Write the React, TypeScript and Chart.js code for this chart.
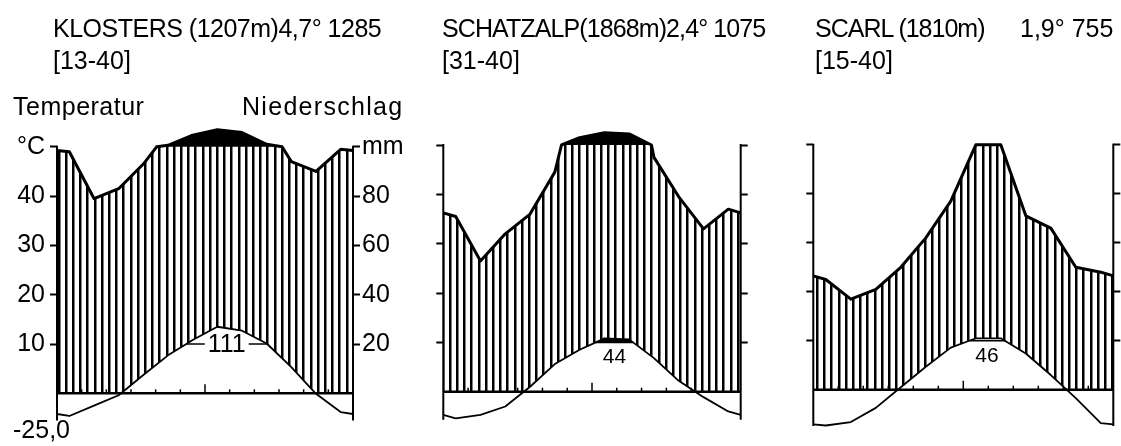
import React, { useEffect, useRef } from 'react';
import { Chart, registerables } from 'chart.js';

Chart.register(...registerables);

// ---------- data ----------
const months = ['J', 'F', 'M', 'A', 'M', 'J', 'J', 'A', 'S', 'O', 'N', 'D'];

const klostersTemp = [-4.6, -2.5, -0.4, 3.7, 7.7, 10.8, 13.5, 12.7, 10.1, 5.3, -0.1, -3.8];
const klostersPrecip = [98, 79, 83, 93, 106, 147, 169, 158, 110, 94, 90, 99];

const schatzalpTemp = [-5.4, -4.7, -3.0, 1.0, 5.6, 8.5, 10.8, 10.6, 6.8, 2.2, -1.1, -4.0];
const schatzalpPrecip = [71, 53, 64, 72, 89, 130, 150, 145, 95, 79, 66, 74];

const scarlTemp = [-7.3, -6.6, -3.7, 0.5, 4.7, 8.6, 10.5, 10.5, 7.4, 3.0, -1.7, -6.8];
const scarlPrecip = [45, 37, 41, 50, 62, 77, 100, 100, 71, 66, 50, 48];

const stationTitles = ['KLOSTERS (1207m)4,7° 1285', 'SCHATZALP(1868m)2,4° 1075', 'SCARL (1810m)'];
const stationExtra = ['', '', '1,9° 755'];
const stationPeriods = ['[13-40]', '[31-40]', '[15-40]'];
const daysLabels = ['111', '44', '46'];
const absMinLabel = '-25,0';
const tempTicks = [10, 20, 30, 40, 50];

// ---------- helpers ----------
const FONT = "'Liberation Sans', Arial, sans-serif";

type Pt = { x: number; y: number };

function convPrecip(mm: number) {
  return mm <= 100 ? mm / 2 : 50 + (mm - 100) / 20;
}
function edgeValue(arr: number[]) {
  return (arr[0] + arr[11]) / 2;
}
function monthPoints(arr: number[]): Pt[] {
  const e = edgeValue(arr);
  return [{ x: 0, y: e }, ...arr.map((v, i) => ({ x: i + 0.5, y: v })), { x: 12, y: e }];
}
function withCrossings(raw: Pt[], level: number): Pt[] {
  const out: Pt[] = [];
  for (let i = 0; i < raw.length; i++) {
    if (i > 0) {
      const a = raw[i - 1], b = raw[i];
      if ((a.y - level) * (b.y - level) < 0) {
        const f = (level - a.y) / (b.y - a.y);
        out.push({ x: a.x + f * (b.x - a.x), y: level });
      }
    }
    out.push(raw[i]);
  }
  return out;
}
function crossings(pts: Pt[], level: number) {
  let c1: number | null = null, c2: number | null = null;
  for (let i = 1; i < pts.length; i++) {
    const a = pts[i - 1], b = pts[i];
    if (a.y < level && b.y >= level && c1 === null) c1 = a.x + ((level - a.y) / (b.y - a.y)) * (b.x - a.x);
    if (a.y >= level && b.y < level) c2 = a.x + ((level - a.y) / (b.y - a.y)) * (b.x - a.x);
  }
  return [c1, c2];
}

function makeHatch() {
  const c = document.createElement('canvas');
  c.width = 36;
  c.height = 8;
  const g = c.getContext('2d')!;
  g.fillStyle = '#fff';
  g.fillRect(0, 0, 36, 8);
  g.fillStyle = '#000';
  [0, 7, 14, 22, 29].forEach((x) => g.fillRect(x, 0, 2.5, 8));
  return g.createPattern(c, 'repeat');
}

// ---------- layout of the three panels ----------
const panels = [
  { temp: klostersTemp, precip: klostersPrecip, days: daysLabels[0], left: 0, width: 420, axisL: 57, axisR: 353, top50: 146.8, base: 393.3, ymin: -5.5, ymax: 55, labels: true, lens: false, dayOnLine: true },
  { temp: schatzalpTemp, precip: schatzalpPrecip, days: daysLabels[1], left: 420, width: 360, axisL: 443.3, axisR: 740.7, top50: 145, base: 391.7, ymin: -5.7, ymax: 55, labels: false, lens: true, dayOnLine: false },
  { temp: scarlTemp, precip: scarlPrecip, days: daysLabels[2], left: 780, width: 341, axisL: 813.3, axisR: 1113.3, top50: 145, base: 391.7, ymin: -7.4, ymax: 55, labels: false, lens: false, dayOnLine: false },
];

function buildConfig(p: any): any {
  const ppd = (p.base - p.top50) / 50;
  const chartTop = p.top50 - (p.ymax - 50) * ppd;
  const chartBottom = p.base - p.ymin * ppd;

  const tPts = withCrossings(monthPoints(p.temp), 10);
  const tCapped = tPts.map((q) => ({ x: q.x, y: Math.min(q.y, 10) }));
  const pPts = withCrossings(monthPoints(p.precip), 100).map((q) => ({ x: q.x, y: convPrecip(q.y) }));
  const pCapped = pPts.map((q) => ({ x: q.x, y: Math.min(q.y, 50) }));
  const [c1, c2] = crossings(tPts, 10);
  const seg10 = c1 !== null && c2 !== null ? [{ x: c1, y: 10 }, { x: c2, y: 10 }] : [];
  const hatch = makeHatch();
  const none = 'rgba(0,0,0,0)';
  const common = { pointRadius: 0, pointHoverRadius: 0, tension: 0, xAxisID: 'x', yAxisID: 'y', clip: false };

  const overlay = {
    id: 'overlay',
    afterDatasetsDraw(chart: any) {
      const { ctx, chartArea, scales } = chart;
      const xs = scales.x, ys = scales.y;
      const y0 = ys.getPixelForValue(0);
      const yTop = ys.getPixelForValue(50);
      ctx.save();
      ctx.strokeStyle = '#000';
      ctx.lineWidth = 2;
      ctx.beginPath();
      ctx.moveTo(chartArea.left, yTop - 1);
      ctx.lineTo(chartArea.left, chartArea.bottom);
      ctx.moveTo(chartArea.right, yTop - 1);
      ctx.lineTo(chartArea.right, chartArea.bottom);
      ctx.stroke();
      ctx.lineWidth = 2.5;
      ctx.beginPath();
      ctx.moveTo(chartArea.left, y0);
      ctx.lineTo(chartArea.right, y0);
      ctx.stroke();
      ctx.lineWidth = 1.5;
      for (let k = 1; k < months.length; k++) {
        const x = xs.getPixelForValue(k);
        ctx.beginPath();
        ctx.moveTo(x, y0);
        ctx.lineTo(x, y0 - (k === 6 ? 9 : 4));
        ctx.stroke();
      }
      if (c1 !== null && c2 !== null) {
        const cx = xs.getPixelForValue((c1 + c2) / 2);
        const y10 = ys.getPixelForValue(10);
        ctx.textAlign = 'center';
        ctx.textBaseline = 'middle';
        if (p.dayOnLine) {
          ctx.font = `25px ${FONT}`;
          const w = ctx.measureText(p.days).width + 6;
          ctx.fillStyle = '#fff';
          ctx.fillRect(cx - w / 2, y10 - 3, w, 6);
          ctx.fillStyle = '#000';
          ctx.fillText(p.days, cx, y10 + 1);
        } else {
          ctx.fillStyle = '#000';
          ctx.font = `21px ${FONT}`;
          ctx.fillText(p.days, cx, y10 + 15);
        }
      }
      ctx.restore();
    },
  };

  const tickFont = { family: FONT, size: 25 };
  return {
    type: 'line',
    data: {
      datasets: [
        // drawn last (on top)
        { ...common, data: pPts, borderColor: '#000', borderWidth: 3, borderJoinStyle: 'round', fill: false },
        { ...common, data: tPts, borderColor: '#000', borderWidth: 1.8, borderJoinStyle: 'round', fill: false },
        { ...common, data: seg10, borderColor: '#000', borderWidth: 1.6, fill: false },
        // temperature area: white below the curve (capped at 10 where the lens is black)
        { ...common, data: p.lens ? tCapped : tPts, borderColor: none, borderWidth: 0, fill: { target: 'origin', above: '#fff', below: none } },
        { ...common, data: tPts, borderColor: none, borderWidth: 0, fill: p.lens ? { target: 'origin', above: '#000', below: none } : false },
        // precipitation: hatching up to 100 mm, black above
        { ...common, data: pCapped, borderColor: none, borderWidth: 0, backgroundColor: hatch, fill: 'origin' },
        { ...common, data: pPts, borderColor: none, borderWidth: 0, backgroundColor: '#000', fill: 'origin' },
        // drawn first (at the bottom)
      ],
    },
    options: {
      responsive: false,
      animation: false,
      devicePixelRatio: 1,
      events: [],
      layout: { padding: { top: chartTop, bottom: 446 - chartBottom, left: 0, right: 0 } },
      plugins: { legend: { display: false }, tooltip: { enabled: false }, title: { display: false } },
      scales: {
        x: { type: 'linear', min: 0, max: 12, display: false },
        y: {
          type: 'linear',
          position: 'left',
          min: p.ymin,
          max: p.ymax,
          afterBuildTicks: (s: any) => { s.ticks = tempTicks.map((v) => ({ value: v })); },
          afterFit: (s: any) => { s.width = p.axisL - p.left; },
          grid: { drawOnChartArea: false, drawTicks: true, tickLength: 7, tickWidth: 2, tickColor: '#000', color: '#000' },
          border: { display: false },
          ticks: { padding: 5, color: '#000', font: tickFont, callback: (v: number) => (p.labels ? (v === 50 ? '°C' : String(v)) : '') },
        },
        y2: {
          type: 'linear',
          position: 'right',
          min: p.ymin,
          max: p.ymax,
          afterBuildTicks: (s: any) => { s.ticks = tempTicks.map((v) => ({ value: v })); },
          afterFit: (s: any) => { s.width = p.left + p.width - p.axisR; },
          grid: { drawOnChartArea: false, drawTicks: true, tickLength: 7, tickWidth: 2, tickColor: '#000', color: '#000' },
          border: { display: false },
          ticks: { padding: 2, color: '#000', font: tickFont, callback: (v: number) => (p.labels ? (v === 50 ? 'mm' : String(v * 2)) : '') },
        },
      },
    },
    plugins: [overlay],
  };
}

const textItems = [
  { t: stationTitles[0], x: 53, top: 15.5, ls: -0.5 },
  { t: stationPeriods[0], x: 53, top: 47.5, ls: 0 },
  { t: stationTitles[1], x: 442, top: 15.5, ls: -0.9 },
  { t: stationPeriods[1], x: 442, top: 47.5, ls: 0 },
  { t: stationTitles[2], x: 815, top: 15.5, ls: -1 },
  { t: stationExtra[2], x: 1020, top: 15.5, ls: 0 },
  { t: stationPeriods[2], x: 815, top: 47.5, ls: 0 },
  { t: 'Temperatur', x: 13, top: 94, ls: 0.5 },
  { t: 'Niederschlag', x: 242, top: 94, ls: 1.3 },
  { t: absMinLabel, x: 13, top: 417, ls: 0 },
];

export default function App() {
  const r0 = useRef<HTMLCanvasElement>(null);
  const r1 = useRef<HTMLCanvasElement>(null);
  const r2 = useRef<HTMLCanvasElement>(null);
  const refs = [r0, r1, r2];

  useEffect(() => {
    const charts = panels.map((p, i) => new Chart(refs[i].current!.getContext('2d')!, buildConfig(p)));
    return () => charts.forEach((c) => c.destroy());
  }, []);

  return (
    <div style={{ position: 'absolute', left: 0, top: 0, width: 1121, height: 446, background: '#fff', overflow: 'hidden' }}>
      {panels.map((p, i) => (
        <canvas
          key={i}
          ref={refs[i]}
          width={p.width}
          height={446}
          style={{ position: 'absolute', left: p.left, top: 0, width: p.width, height: 446 }}
        />
      ))}
      {textItems.map((it, i) => (
        <div
          key={'t' + i}
          style={{
            position: 'absolute',
            left: it.x,
            top: it.top,
            fontFamily: FONT,
            fontSize: 25,
            lineHeight: '25px',
            letterSpacing: it.ls,
            whiteSpace: 'nowrap',
            color: '#000',
            zIndex: 2,
          }}
        >
          {it.t}
        </div>
      ))}
    </div>
  );
}
